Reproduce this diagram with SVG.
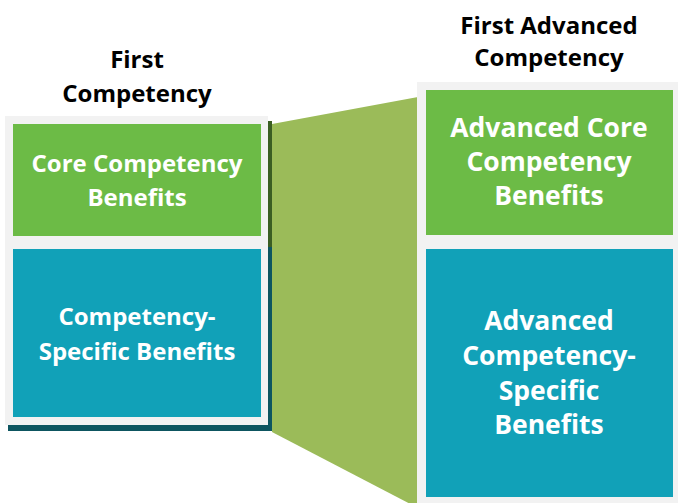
<svg xmlns="http://www.w3.org/2000/svg" width="678" height="503" viewBox="0 0 678 503">
<style>
.t{font-family:"Open Sans","Noto Sans","Liberation Sans",sans-serif;font-weight:700;text-anchor:middle}
.title{fill:#000;font-size:24px}
.lbl{fill:#fff;font-size:24px}
.lbl2{fill:#fff;font-size:26.5px}
.frame{fill:#f2f2f2}
.green{fill:#6cbb46}
.teal{fill:#11a1b8}
</style>
<rect width="678" height="503" fill="#fff"/>
<g id="connectors">
<polygon points="272,124 418,97 418,508 272,432" fill="#9bbb59"/>
</g>
<g id="first-competency">
<text class="t title" x="137" y="68">First</text>
<text class="t title" x="137" y="102">Competency</text>
<rect x="268" y="121" width="4" height="126" fill="#3b5e23"/>
<rect x="268" y="247" width="4" height="184" fill="#0d5560"/>
<rect x="8" y="425" width="264" height="6" fill="#0d5560"/>
<rect class="frame" x="5" y="116" width="263" height="309"/>
</g>
<g id="core-benefits">
<rect class="green" x="13" y="124" width="248" height="112"/>
<text class="t lbl" x="137" y="172">Core Competency</text>
<text class="t lbl" x="137" y="206">Benefits</text>
</g>
<g id="specific-benefits">
<rect class="teal" x="13" y="249" width="248" height="168"/>
<text class="t lbl" x="137" y="325">Competency-</text>
<text class="t lbl" x="137" y="360">Specific Benefits</text>
</g>
<g id="first-advanced-competency">
<text class="t title" x="549" y="34">First Advanced</text>
<text class="t title" x="549" y="66">Competency</text>
<rect class="frame" x="417" y="82" width="261" height="421"/>
</g>
<g id="advanced-core-benefits">
<rect class="green" x="426" y="90" width="247" height="145"/>
<text class="t lbl2" x="549" y="137">Advanced Core</text>
<text class="t lbl2" x="549" y="171">Competency</text>
<text class="t lbl2" x="549" y="205">Benefits</text>
</g>
<g id="advanced-specific-benefits">
<rect class="teal" x="426" y="249" width="247" height="248"/>
<text class="t lbl2" x="549" y="330">Advanced</text>
<text class="t lbl2" x="549" y="365">Competency-</text>
<text class="t lbl2" x="549" y="400">Specific</text>
<text class="t lbl2" x="549" y="434">Benefits</text>
</g>
</svg>
